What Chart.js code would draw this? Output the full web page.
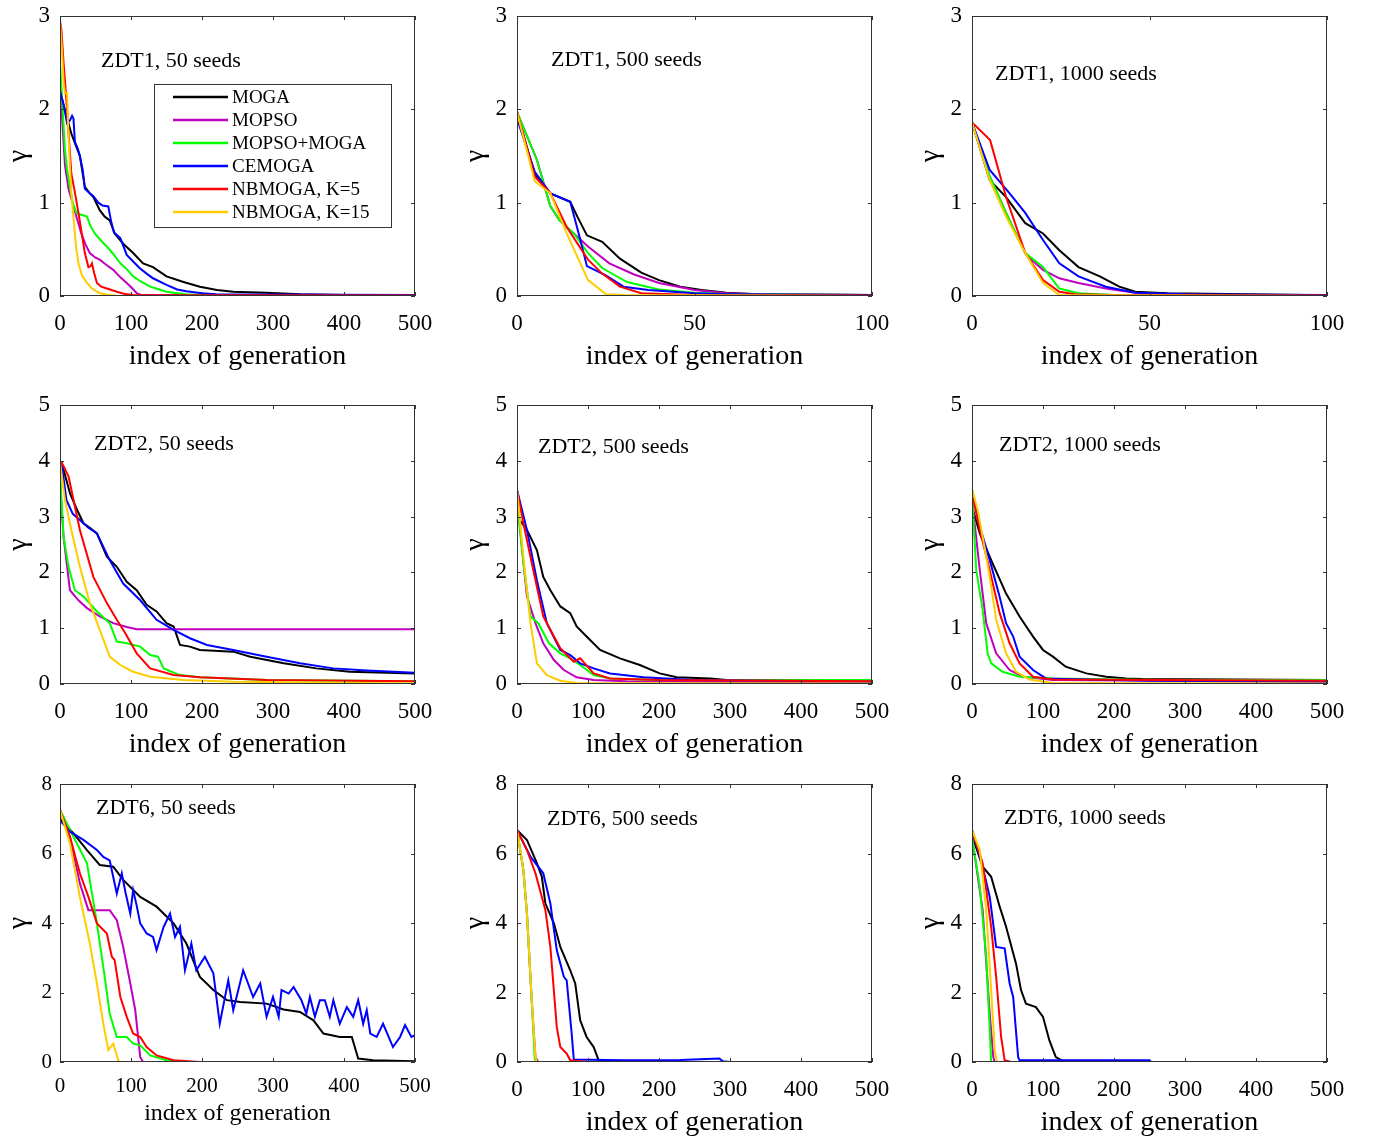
<!DOCTYPE html>
<html>
<head>
<meta charset="utf-8">
<script src="https://cdn.jsdelivr.net/npm/chart.js@4.4.1/dist/chart.umd.min.js"></script>
<style>
  body { margin: 0; background: #fff; width: 1374px; height: 1136px; overflow: hidden; }
  .panel { position: absolute; }
</style>
</head>
<body>
<script>
const FONT = "'Liberation Serif', 'Times New Roman', serif";

const seriesNames = ['MOGA', 'MOPSO', 'MOPSO+MOGA', 'CEMOGA', 'NBMOGA, K=5', 'NBMOGA, K=15'];
const seriesColors = ['#000000', '#bf00bf', '#00ff00', '#0000ff', '#ff0000', '#ffcc00'];

const xTicksLong = [0, 100, 200, 300, 400, 500];
const xTicksShort = [0, 50, 100];
const yTicksZdt1 = [0, 1, 2, 3];
const yTicksZdt2 = [0, 1, 2, 3, 4, 5];
const yTicksZdt6 = [0, 2, 4, 6, 8];

// [generation, gamma] pairs

// ZDT1, 50 seeds
const z1_50_moga = [[0,2.2],[5,2.05],[10,1.9],[16,1.74],[22,1.62],[28,1.5],[35,1.17],[42,1.1],[47,1.06],[56,0.92],[63,0.85],[70,0.81],[77,0.67],[89,0.56],[103,0.46],[117,0.35],[131,0.31],[150,0.21],[174,0.15],[197,0.1],[221,0.064],[244,0.046],[291,0.036],[338,0.02],[400,0.012],[500,0.01]];
const z1_50_mopso = [[0,2.35],[3,1.9],[7,1.4],[12,1.15],[19,0.96],[25,0.8],[30,0.67],[36,0.55],[42,0.46],[50,0.41],[56,0.39],[66,0.33],[75,0.28],[85,0.2],[94,0.14],[102,0.08],[108,0.03],[115,0.01],[500,0.005]];
const z1_50_hybrid = [[0,2.5],[3,2.1],[7,1.56],[10,1.35],[14,1.17],[18,1.0],[23,0.89],[30,0.87],[38,0.85],[43,0.75],[49,0.67],[57,0.6],[66,0.53],[75,0.45],[85,0.35],[95,0.28],[103,0.21],[115,0.15],[127,0.1],[140,0.07],[150,0.046],[165,0.03],[178,0.018],[200,0.012],[500,0.01]];
const z1_50_cemoga = [[0,2.2],[5,2.05],[10,1.85],[14,1.88],[17,1.93],[19,1.9],[21,1.65],[25,1.58],[28,1.5],[32,1.35],[35,1.15],[42,1.1],[47,1.07],[54,1.0],[60,0.97],[68,0.96],[72,0.8],[76,0.68],[85,0.62],[94,0.44],[103,0.37],[112,0.3],[122,0.24],[131,0.19],[150,0.12],[165,0.07],[178,0.05],[200,0.03],[220,0.02],[300,0.015],[500,0.01]];
const z1_50_nb5 = [[0,2.95],[2,2.85],[5,2.5],[9,2.1],[12,1.75],[16,1.31],[20,1.15],[26,0.89],[30,0.7],[35,0.46],[40,0.31],[43,0.32],[45,0.35],[48,0.25],[52,0.14],[58,0.1],[66,0.08],[80,0.046],[90,0.025],[103,0.01],[500,0.005]];
const z1_50_nb15 = [[0,2.95],[3,2.6],[5,2.3],[7,2.17],[10,2.17],[12,1.7],[16,1.1],[20,0.75],[23,0.5],[26,0.35],[31,0.22],[38,0.14],[45,0.08],[56,0.03],[70,0.01],[80,0.003],[500,0]];

// ZDT1, 500 seeds
const z1_500_moga = [[0,1.97],[5,1.3],[9.4,1.1],[15,1.01],[17,0.85],[19.7,0.65],[24,0.58],[29,0.4],[35,0.25],[40,0.17],[46,0.1],[52,0.064],[59,0.036],[68,0.02],[100,0.01]];
const z1_500_mopso = [[0,1.97],[5.6,1.46],[9.4,0.96],[12,0.81],[16,0.67],[20,0.53],[26,0.35],[33,0.23],[40,0.14],[50,0.064],[59,0.03],[70,0.015],[100,0.01]];
const z1_500_hybrid = [[0,1.97],[5.6,1.46],[9.4,0.96],[12,0.81],[16,0.67],[20,0.46],[24,0.3],[31,0.15],[40,0.07],[50,0.036],[60,0.02],[100,0.01]];
const z1_500_cemoga = [[0,1.9],[5,1.33],[9.4,1.1],[15,1.01],[17.5,0.65],[19.7,0.32],[25,0.22],[30,0.1],[37,0.064],[50,0.03],[60,0.02],[100,0.01]];
const z1_500_nb5 = [[0,1.97],[5,1.28],[9.4,1.1],[14,0.74],[20,0.39],[24,0.24],[29,0.1],[35,0.03],[50,0.01],[100,0.005]];
const z1_500_nb15 = [[0,1.97],[5,1.23],[9.4,1.1],[14,0.67],[20,0.17],[25,0.02],[30,0.01],[100,0]];

// ZDT1, 1000 seeds
const z1_1000_moga = [[0,1.86],[5,1.24],[9.6,1.06],[15,0.78],[20,0.67],[24.6,0.49],[30,0.31],[36,0.21],[41.5,0.1],[46,0.046],[55,0.03],[94,0.01],[100,0.01]];
const z1_1000_mopso = [[0,1.86],[5,1.28],[9.6,0.89],[15,0.46],[17,0.38],[20,0.28],[24.6,0.19],[30,0.14],[37.7,0.08],[46,0.036],[55,0.02],[70,0.01],[100,0.01]];
const z1_1000_hybrid = [[0,1.86],[5,1.28],[9.6,0.89],[15,0.46],[20,0.31],[24.6,0.08],[30,0.03],[40,0.01],[100,0.01]];
const z1_1000_cemoga = [[0,1.86],[5,1.35],[10.6,1.1],[15,0.89],[20,0.6],[24.6,0.35],[30,0.21],[37.7,0.1],[46,0.036],[60,0.02],[100,0.01]];
const z1_1000_nb5 = [[0,1.86],[5.1,1.67],[9.6,1.06],[15,0.46],[20,0.17],[24.6,0.046],[29,0.02],[40,0.01],[100,0.005]];
const z1_1000_nb15 = [[0,1.86],[5,1.24],[9.6,0.85],[15,0.46],[20,0.14],[24.6,0.01],[100,0]];

// ZDT2, 50 seeds
const z2_50_moga = [[2,3.98],[8,3.7],[14,3.42],[23,3.15],[33,2.88],[42,2.8],[52,2.7],[66,2.28],[80,2.1],[94,1.83],[108,1.68],[122,1.42],[136,1.3],[150,1.09],[160,1.03],[169,0.7],[183,0.67],[197,0.61],[244,0.58],[268,0.49],[315,0.37],[361,0.28],[408,0.22],[500,0.19]];
const z2_50_mopso = [[0,3.6],[5,2.64],[14,1.68],[26,1.5],[38,1.36],[56,1.21],[75,1.09],[94,1.02],[108,0.98],[500,0.98]];
const z2_50_hybrid = [[0,3.78],[5,2.64],[12,2.1],[21,1.68],[33,1.57],[52,1.3],[70,1.09],[80,0.76],[94,0.73],[113,0.67],[127,0.52],[138,0.49],[146,0.28],[169,0.16],[197,0.12],[291,0.07],[500,0.05]];
const z2_50_cemoga = [[2,3.98],[9,3.3],[18,3.05],[28,2.94],[40,2.8],[52,2.7],[70,2.22],[89,1.8],[113,1.5],[136,1.15],[160,0.97],[183,0.82],[207,0.7],[244,0.61],[291,0.49],[338,0.37],[385,0.28],[432,0.24],[500,0.2]];
const z2_50_nb5 = [[2,3.98],[12,3.72],[28,2.76],[47,1.92],[66,1.45],[80,1.15],[92,0.91],[108,0.55],[127,0.28],[160,0.16],[197,0.12],[291,0.07],[500,0.05]];
const z2_50_nb15 = [[0,3.98],[7,3.3],[16,2.76],[28,2.1],[42,1.45],[56,0.97],[70,0.49],[85,0.34],[103,0.22],[127,0.13],[174,0.07],[244,0.04],[500,0.01]];

// ZDT2, 500 seeds
const z2_500_moga = [[0,3.0],[14,2.76],[28,2.4],[37,1.92],[47,1.68],[61,1.39],[75,1.27],[84,1.03],[98,0.85],[117,0.61],[145,0.46],[173,0.34],[201,0.19],[225,0.12],[272,0.1],[295,0.07],[500,0.06]];
const z2_500_mopso = [[0,3.3],[14,1.57],[26,1.09],[37,0.73],[52,0.43],[66,0.25],[84,0.12],[108,0.07],[154,0.05],[500,0.02]];
const z2_500_hybrid = [[0,3.3],[9,2.16],[19,1.21],[30,1.09],[45,0.73],[61,0.55],[75,0.46],[89,0.34],[108,0.16],[131,0.1],[201,0.07],[500,0.07]];
const z2_500_cemoga = [[0,3.48],[14,2.76],[28,1.86],[42,1.09],[61,0.61],[75,0.52],[89,0.37],[108,0.28],[131,0.19],[178,0.12],[248,0.07],[500,0.04]];
const z2_500_nb5 = [[0,3.48],[9,2.88],[23,2.04],[37,1.21],[61,0.64],[80,0.4],[89,0.46],[108,0.19],[131,0.1],[201,0.07],[500,0.05]];
const z2_500_nb15 = [[0,3.48],[9,2.28],[19,1.09],[28,0.37],[42,0.16],[61,0.06],[84,0.02],[500,0.01]];

// ZDT2, 1000 seeds
const z2_1000_moga = [[0,3.18],[11,2.7],[29,2.16],[48,1.62],[67,1.21],[86,0.85],[100,0.61],[114,0.49],[132,0.31],[161,0.19],[189,0.13],[217,0.1],[240,0.09],[500,0.07]];
const z2_1000_mopso = [[0,3.3],[11,2.04],[20,1.09],[34,0.55],[53,0.25],[72,0.13],[114,0.07],[500,0.04]];
const z2_1000_hybrid = [[0,3.42],[6,2.04],[15,1.33],[22,0.55],[27,0.37],[43,0.22],[67,0.13],[114,0.1],[254,0.07],[500,0.07]];
const z2_1000_cemoga = [[0,3.48],[11,2.82],[25,2.22],[39,1.56],[48,1.09],[58,0.85],[67,0.49],[86,0.25],[104,0.1],[161,0.08],[254,0.06],[500,0.04]];
const z2_1000_nb5 = [[0,3.42],[11,2.76],[25,2.04],[39,1.27],[53,0.73],[67,0.37],[86,0.13],[114,0.08],[500,0.06]];
const z2_1000_nb15 = [[0,3.5],[8,3.12],[15,2.64],[25,1.92],[34,1.15],[48,0.55],[62,0.22],[81,0.08],[114,0.02],[500,0.01]];

// ZDT6, 50 seeds
const z6_50_moga = [[0,7.0],[19,6.58],[38,6.1],[56,5.67],[75,5.62],[89,5.24],[113,4.75],[136,4.47],[160,3.99],[178,3.41],[197,2.45],[216,2.07],[235,1.78],[254,1.73],[291,1.68],[315,1.51],[338,1.44],[357,1.2],[371,0.82],[394,0.72],[411,0.72],[420,0.1],[441,0.05],[500,0.02]];
const z6_50_mopso = [[0,7.25],[14,6.48],[28,5.14],[40,4.37],[56,4.37],[70,4.37],[80,4.08],[89,3.31],[99,2.26],[106,1.49],[113,0.14],[117,0],[500,0]];
const z6_50_hybrid = [[0,7.25],[19,6.48],[38,5.72],[52,3.99],[63,2.45],[70,1.39],[80,0.72],[94,0.72],[103,0.53],[113,0.48],[127,0.19],[150,0.05],[180,0.01],[500,0]];
const z6_50_cemoga = [[0,6.96],[14,6.63],[33,6.39],[52,6.1],[61,5.9],[70,5.8],[80,4.85],[87,5.43],[92,4.9],[99,4.27],[103,4.95],[108,4.5],[113,3.99],[122,3.7],[131,3.6],[136,3.22],[146,3.89],[155,4.27],[162,3.6],[169,3.89],[176,2.64],[185,3.41],[192,2.64],[204,3.03],[216,2.55],[225,1.1],[237,2.35],[244,1.49],[258,2.64],[272,1.87],[282,2.26],[291,1.3],[300,1.87],[308,1.3],[312,2.07],[322,1.97],[329,2.16],[340,1.78],[347,1.39],[352,1.87],[359,1.3],[366,1.78],[373,1.78],[380,1.3],[385,1.78],[394,1.1],[404,1.58],[413,1.3],[420,1.78],[427,1.1],[432,1.49],[437,0.82],[446,0.72],[455,1.1],[469,0.43],[479,0.72],[486,1.06],[495,0.72],[500,0.77]];
const z6_50_nb5 = [[0,7.25],[14,6.48],[28,5.43],[40,4.75],[52,3.99],[66,3.7],[73,3.03],[77,2.93],[85,1.87],[94,1.3],[103,0.82],[113,0.72],[122,0.43],[136,0.19],[160,0.05],[197,0],[500,0]];
const z6_50_nb15 = [[0,7.25],[14,6.29],[28,4.75],[42,3.41],[52,2.26],[61,1.1],[68,0.34],[75,0.53],[82,0.05],[85,0],[500,0]];

// ZDT6, 500 seeds
const z6_500_moga = [[0,6.68],[14,6.39],[28,5.72],[35,5.33],[40,4.56],[52,3.99],[61,3.31],[75,2.64],[82,2.26],[89,1.2],[98,0.72],[108,0.43],[115,0.05],[131,0.02],[150,0],[500,0]];
const z6_500_mopso = [[0,6.68],[9,5.52],[14,4.27],[21,1.68],[26,0.14],[30,0],[500,0]];
const z6_500_hybrid = [[0,6.68],[9,5.52],[14,4.27],[21,1.68],[25,0.1],[27,0],[500,0]];
const z6_500_cemoga = [[0,6.68],[19,5.91],[37,5.43],[47,4.56],[56,3.22],[66,2.45],[70,2.35],[77,0.82],[80,0.07],[150,0.05],[230,0.06],[285,0.1],[290,0.02],[300,0],[500,0]];
const z6_500_nb5 = [[0,6.68],[14,6.1],[26,5.43],[40,4.37],[47,3.31],[56,1.01],[61,0.43],[70,0.24],[75,0.05],[100,0],[500,0]];
const z6_500_nb15 = [[0,6.68],[9,5.52],[14,4.27],[21,1.68],[26,0.14],[28,0],[500,0]];

// ZDT6, 1000 seeds
const z6_1000_moga = [[0,6.53],[15,5.62],[27,5.33],[39,4.47],[48,3.89],[62,2.83],[69,2.07],[76,1.68],[90,1.58],[100,1.3],[109,0.62],[118,0.14],[128,0.03],[140,0],[500,0]];
const z6_1000_mopso = [[0,6.48],[15,4.37],[25,1.39],[30,0.14],[32,0],[500,0]];
const z6_1000_hybrid = [[0,6.48],[11,5.04],[20,3.03],[25,0.91],[27,0],[500,0]];
const z6_1000_cemoga = [[0,6.68],[15,5.62],[25,4.75],[34,3.31],[46,3.27],[53,2.26],[58,1.87],[65,0.14],[67,0.05],[250,0.05],[252,0],[500,0]];
const z6_1000_nb5 = [[0,6.68],[15,5.72],[27,3.89],[34,2.45],[41,0.72],[46,0.05],[55,0],[500,0]];
const z6_1000_nb15 = [[0,6.68],[11,6.1],[20,4.37],[27,2.07],[32,0.34],[35,0],[500,0]];

// layout of the 3x3 grid (plot-area boxes in page pixels)
const colLeft = [60, 517, 972];
const rowTop = [16, 405, 784];
const rowHeight = [280, 279, 278];

const panels = [
  { title: 'ZDT1, 50 seeds', col: 0, row: 0, xMax: 500, xTicks: xTicksLong, yMax: 3, yTicks: yTicksZdt1,
    series: [z1_50_moga, z1_50_mopso, z1_50_hybrid, z1_50_cemoga, z1_50_nb5, z1_50_nb15], note: [41, 45], legend: true },
  { title: 'ZDT1, 500 seeds', col: 1, row: 0, xMax: 100, xTicks: xTicksShort, yMax: 3, yTicks: yTicksZdt1,
    series: [z1_500_moga, z1_500_mopso, z1_500_hybrid, z1_500_cemoga, z1_500_nb5, z1_500_nb15], note: [34, 44] },
  { title: 'ZDT1, 1000 seeds', col: 2, row: 0, xMax: 100, xTicks: xTicksShort, yMax: 3, yTicks: yTicksZdt1,
    series: [z1_1000_moga, z1_1000_mopso, z1_1000_hybrid, z1_1000_cemoga, z1_1000_nb5, z1_1000_nb15], note: [23, 58] },
  { title: 'ZDT2, 50 seeds', col: 0, row: 1, xMax: 500, xTicks: xTicksLong, yMax: 5, yTicks: yTicksZdt2,
    series: [z2_50_moga, z2_50_mopso, z2_50_hybrid, z2_50_cemoga, z2_50_nb5, z2_50_nb15], note: [34, 39] },
  { title: 'ZDT2, 500 seeds', col: 1, row: 1, xMax: 500, xTicks: xTicksLong, yMax: 5, yTicks: yTicksZdt2,
    series: [z2_500_moga, z2_500_mopso, z2_500_hybrid, z2_500_cemoga, z2_500_nb5, z2_500_nb15], note: [21, 42] },
  { title: 'ZDT2, 1000 seeds', col: 2, row: 1, xMax: 500, xTicks: xTicksLong, yMax: 5, yTicks: yTicksZdt2,
    series: [z2_1000_moga, z2_1000_mopso, z2_1000_hybrid, z2_1000_cemoga, z2_1000_nb5, z2_1000_nb15], note: [27, 40] },
  { title: 'ZDT6, 50 seeds', col: 0, row: 2, xMax: 500, xTicks: xTicksLong, yMax: 8, yTicks: yTicksZdt6,
    series: [z6_50_moga, z6_50_mopso, z6_50_hybrid, z6_50_cemoga, z6_50_nb5, z6_50_nb15], note: [36, 24], small: true },
  { title: 'ZDT6, 500 seeds', col: 1, row: 2, xMax: 500, xTicks: xTicksLong, yMax: 8, yTicks: yTicksZdt6,
    series: [z6_500_moga, z6_500_mopso, z6_500_hybrid, z6_500_cemoga, z6_500_nb5, z6_500_nb15], note: [30, 35] },
  { title: 'ZDT6, 1000 seeds', col: 2, row: 2, xMax: 500, xTicks: xTicksLong, yMax: 8, yTicks: yTicksZdt6,
    series: [z6_1000_moga, z6_1000_mopso, z6_1000_hybrid, z6_1000_cemoga, z6_1000_nb5, z6_1000_nb15], note: [32, 34] }
];

const PAD_LEFT = 60, PAD_TOP = 20, PAD_RIGHT = 30, PAD_BOTTOM = 80, PLOT_W = 355;

// MATLAB-like box with inward ticks, text note and the legend
const boxPlugin = {
  id: 'matlabBox',
  afterDatasetsDraw(chart, args, opts) {
    const { ctx, chartArea: a, scales } = chart;
    const tl = 4;
    ctx.save();
    ctx.strokeStyle = '#333';
    ctx.lineWidth = 1;
    ctx.strokeRect(a.left + 0.5, a.top + 0.5, a.right - a.left - 1, a.bottom - a.top - 1);
    ctx.beginPath();
    scales.x.ticks.forEach(t => {
      const px = Math.round(scales.x.getPixelForValue(t.value)) + 0.5;
      ctx.moveTo(px, a.bottom); ctx.lineTo(px, a.bottom - tl);
      ctx.moveTo(px, a.top); ctx.lineTo(px, a.top + tl);
    });
    scales.y.ticks.forEach(t => {
      const py = Math.round(scales.y.getPixelForValue(t.value)) + 0.5;
      ctx.moveTo(a.left, py); ctx.lineTo(a.left + tl, py);
      ctx.moveTo(a.right, py); ctx.lineTo(a.right - tl, py);
    });
    ctx.stroke();

    // panel note
    ctx.fillStyle = '#000';
    ctx.font = '22px ' + FONT;
    ctx.textAlign = 'left';
    ctx.textBaseline = 'middle';
    ctx.fillText(opts.title, a.left + opts.note[0], a.top + opts.note[1]);

    if (opts.legend) {
      const lx = a.left + 94, ly = a.top + 68, lw = 237, lh = 143;
      ctx.fillStyle = '#fff';
      ctx.fillRect(lx, ly, lw, lh);
      ctx.strokeStyle = '#333';
      ctx.strokeRect(lx + 0.5, ly + 0.5, lw, lh);
      ctx.font = '19px ' + FONT;
      chart.data.datasets.forEach((ds, i) => {
        const y = ly + 13 + i * 23;
        ctx.strokeStyle = ds.borderColor;
        ctx.lineWidth = 2.5;
        ctx.beginPath();
        ctx.moveTo(lx + 19, y); ctx.lineTo(lx + 74, y);
        ctx.stroke();
        ctx.fillStyle = '#000';
        ctx.fillText(ds.label, lx + 78, y + 1);
      });
    }
    ctx.restore();
  }
};

panels.forEach(p => {
  const h = rowHeight[p.row];
  const box = document.createElement('div');
  box.className = 'panel';
  box.style.left = (colLeft[p.col] - PAD_LEFT) + 'px';
  box.style.top = (rowTop[p.row] - PAD_TOP) + 'px';
  box.style.width = (PAD_LEFT + PLOT_W + PAD_RIGHT) + 'px';
  box.style.height = (PAD_TOP + h + PAD_BOTTOM) + 'px';
  const canvas = document.createElement('canvas');
  box.appendChild(canvas);
  document.body.appendChild(box);

  const tickSize = p.small ? 21 : 23;
  const xTitleSize = p.small ? 24 : 28;

  new Chart(canvas, {
    type: 'line',
    data: {
      datasets: p.series.map((pts, i) => ({
        label: seriesNames[i],
        data: pts.map(([x, y]) => ({ x, y })),
        borderColor: seriesColors[i],
        backgroundColor: seriesColors[i],
        borderWidth: 2,
        pointRadius: 0,
        tension: 0,
        order: seriesNames.length - i
      }))
    },
    options: {
      responsive: true,
      maintainAspectRatio: false,
      animation: false,
      layout: { padding: { top: PAD_TOP, right: PAD_RIGHT, left: 0, bottom: 0 } },
      plugins: {
        legend: { display: false },
        tooltip: { enabled: false },
        matlabBox: { title: p.title, note: p.note, legend: !!p.legend }
      },
      scales: {
        x: {
          type: 'linear',
          min: 0,
          max: p.xMax,
          afterBuildTicks: s => { s.ticks = p.xTicks.map(v => ({ value: v })); },
          afterFit: s => { s.height = PAD_BOTTOM; s.paddingLeft = 0; s.paddingRight = 0; },
          grid: { display: false, drawTicks: false },
          border: { display: false },
          ticks: {
            color: '#000', padding: p.small ? 12 : 14, maxRotation: 0, autoSkip: false,
            font: { family: FONT, size: tickSize, lineHeight: 1.2 }
          },
          title: {
            display: true, text: 'index of generation', color: '#000',
            font: { family: FONT, size: xTitleSize, lineHeight: 1 },
            padding: { top: 0, bottom: p.small ? 16 : 5 }
          }
        },
        y: {
          min: 0,
          max: p.yMax,
          afterBuildTicks: s => { s.ticks = p.yTicks.map(v => ({ value: v })); },
          afterFit: s => { s.width = PAD_LEFT; s.paddingTop = 0; s.paddingBottom = 0; },
          grid: { display: false, drawTicks: false },
          border: { display: false },
          ticks: {
            color: '#000', padding: p.small ? 8 : 10, autoSkip: false,
            font: { family: FONT, size: tickSize, lineHeight: 1.2 }
          },
          title: {
            display: true, text: 'γ', color: '#000',
            font: { family: FONT, size: 28, lineHeight: 1 },
            padding: { top: 5, bottom: 0 }
          }
        }
      }
    },
    plugins: [boxPlugin]
  });
});
</script>
</body>
</html>
